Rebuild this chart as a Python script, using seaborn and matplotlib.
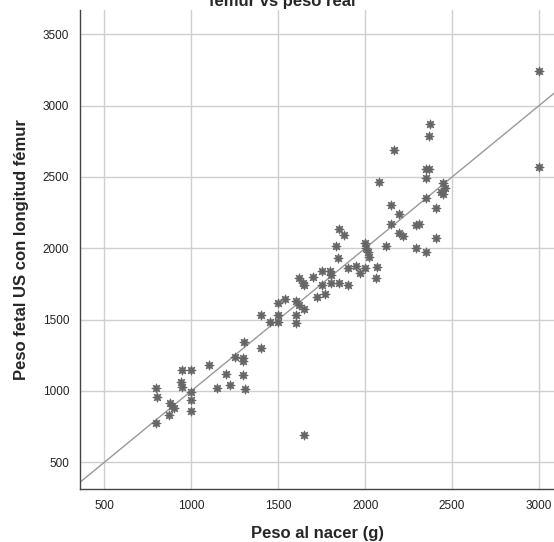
import matplotlib
matplotlib.use("Agg")
import matplotlib.pyplot as plt
import seaborn as sns
import pandas as pd

# ── Data ──────────────────────────────────────────────────────────────────────
peso_nacer = [
    800, 805, 800, 870, 880, 890, 900, 945, 1000, 940,
    945, 1000, 1000, 1000, 1100, 1150, 1200, 1225, 1250, 1300,
    1300, 1300, 1310, 1305, 1400, 1400, 1450, 1500, 1500, 1500,
    1540, 1600, 1600, 1600, 1620, 1645, 1650, 1620, 1650, 1650,
    1700, 1725, 1750, 1750, 1770, 1800, 1805, 1805, 1850, 1845,
    1900, 1900, 1945, 1970, 2000, 2070, 2060, 1830, 1850, 1880,
    2000, 2005, 2015, 2025, 2080, 2120, 2150, 2150, 2165, 2195,
    2195, 2215, 2295, 2310, 2295, 2350, 2350, 2350, 2350, 2370,
    2370, 2375, 2410, 2410, 2450, 2460, 2435, 2450, 3000, 3000,
]
peso_fetal_us = [
    1020, 955, 775, 830, 915, 895, 880, 1145, 1150, 1060,
    1030, 995, 940, 860, 1185, 1020, 1120, 1045, 1240, 1230,
    1210, 1110, 1015, 1345, 1530, 1300, 1480, 1615, 1530, 1480,
    1645, 1630, 1530, 1475, 1790, 1760, 1740, 1600, 1575, 690,
    1800, 1660, 1840, 1745, 1680, 1840, 1815, 1755, 1755, 1930,
    1745, 1865, 1875, 1830, 1865, 1870, 1795, 2015, 2135, 2090,
    2040, 2000, 1975, 1940, 2465, 2015, 2300, 2170, 2690, 2240,
    2105, 2085, 2160, 2170, 2005, 1975, 2350, 2495, 2555, 2555,
    2785, 2870, 2285, 2075, 2455, 2420, 2395, 2380, 3245, 2570,
]
ref_line = [300, 3300]          # y = x reference line
x_ticks = [500, 1000, 1500, 2000, 2500, 3000]
y_ticks = [500, 1000, 1500, 2000, 2500, 3000, 3500]

df = pd.DataFrame({"nacer": peso_nacer, "fetal": peso_fetal_us})

# ── Style ─────────────────────────────────────────────────────────────────────
sns.set_theme(style="whitegrid")
plt.rcParams["font.family"] = ["Liberation Sans", "DejaVu Sans"]

fig = plt.figure(figsize=(5.54, 5.42), dpi=100)
ax = fig.add_axes([80.3 / 554, 53 / 542, (554 - 80.3) / 554, 479 / 542])

ax.plot(ref_line, ref_line, color="#999999", lw=1.0, zorder=2)
sns.scatterplot(data=df, x="nacer", y="fetal", ax=ax, marker=(8, 1, 0),
                s=45, color="#666666", edgecolor="#666666", linewidth=0.6,
                zorder=3)

ax.set_xlim(362, 3086)
ax.set_ylim(313, 3670)
ax.set_xticks(x_ticks)
ax.set_yticks(y_ticks)
ax.tick_params(axis="both", length=0, labelsize=8.5, colors="#222222", pad=8)
ax.grid(True, color="#cfcfcf", lw=1.0)
for side in ["top", "right"]:
    ax.spines[side].set_visible(False)
for side in ["left", "bottom"]:
    ax.spines[side].set_color("#444444")
    ax.spines[side].set_linewidth(1.0)

ax.set_xlabel("Peso al nacer (g)", fontsize=12, fontweight="bold", labelpad=10)
ax.set_ylabel("Peso fetal US con longitud fémur", fontsize=12,
              fontweight="bold", labelpad=10)

# title sits partly off the top of the image, as in the reference
fig.text(282 / 554, 1 - 6 / 542, "fémur vs peso real", ha="center",
         va="baseline", fontsize=12, fontweight="bold")

fig.savefig("out.png", dpi=100)
